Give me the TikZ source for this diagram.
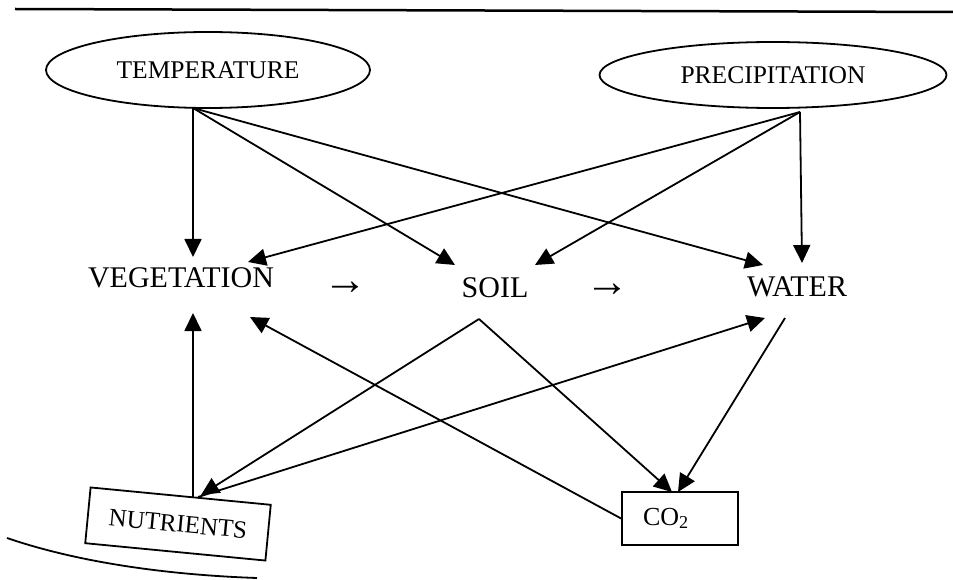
\documentclass[tikz,border=0pt]{standalone}
\usepackage{fontspec}
\setmainfont{Liberation Serif}
\usepackage{tikz}
\usetikzlibrary{arrows.meta}
\usetikzlibrary{shapes.geometric}
\usetikzlibrary{positioning}

\begin{document}
\begin{tikzpicture}[x=1pt,y=-1pt,
		oval/.style={draw,ellipse,line width=1.8pt,inner sep=0pt,font=\fontsize{25.5}{30}\selectfont},
		pool/.style={draw,rectangle,line width=1.8pt,inner sep=0pt,font=\fontsize{25}{30}\selectfont},
		word/.style={inner sep=0pt,font=\fontsize{30}{36}\selectfont},
		flow/.style={inner sep=0pt,font=\fontsize{44}{48}\selectfont},
		link/.style={line width=1.8pt,-{Triangle[length=18pt,width=17pt]}}]
		\useasboundingbox (0,0) rectangle (953,580);
		% page edges
		\draw[line width=2.5pt] (15,9) -- (953,12);
		\draw[line width=1.8pt] (7,538) .. controls (80,563) and (170,575) .. (257,578);
		% drivers
		\node[oval,minimum width=324pt,minimum height=76pt] (temp) at (208,70) {TEMPERATURE};
		\node[oval,minimum width=347pt,minimum height=66pt] (prec) at (773,75) {PRECIPITATION};
		% middle row
		\node[word] (veg) at (181,278) {VEGETATION};
		\node[flow] (arrA) at (345,288) {→};
		\node[word] (soil) at (495,287.5) {SOIL};
		\node[flow] (arrB) at (607,290) {→};
		\node[word] (water) at (797,287) {WATER};
		% pools
		\node[pool,rotate=-5.5,minimum width=181pt,minimum height=56pt] (nutr) at (178,524) {NUTRIENTS};
		\node[pool,minimum width=116pt,minimum height=53pt,text width=74pt,inner xsep=21pt,align=left,
			font=\fontsize{26}{30}\selectfont] (co) at (680,518.5) {CO\textsubscript{2}};
		% ports
		\coordinate (tempout) at (193,108);
		\coordinate (precout) at (800,112);
		\coordinate (vegT) at (193,257);
		\coordinate (vegP) at (248,262);
		\coordinate (vegN) at (193,313);
		\coordinate (vegC) at (250,317);
		\coordinate (soilT) at (455,265);
		\coordinate (soilP) at (535,265);
		\coordinate (soilout) at (479,319);
		\coordinate (waterT) at (763,265);
		\coordinate (waterP) at (802,263);
		\coordinate (waterN) at (765,318);
		\coordinate (waterout) at (785,318);
		\coordinate (nutrS) at (201,495);
		\coordinate (nutrV) at (193,498);
		\coordinate (nutrW) at (198,497);
		\coordinate (coS) at (672,492);
		\coordinate (coW) at (678,492);
		% climate links
		\draw[link] (tempout) -- (vegT);
		\draw[link] (tempout) -- (soilT);
		\draw[link] (tempout) -- (waterT);
		\draw[link] (precout) -- (vegP);
		\draw[link] (precout) -- (soilP);
		\draw[link] (precout) -- (waterP);
		% pool links
		\draw[link] (nutrV) -- (vegN);
		\draw[link] (soilout) -- (nutrS);
		\draw[link] (nutrW) -- (waterN);
		\draw[link] (soilout) -- (coS);
		\draw[link] (waterout) -- (coW);
		\draw[link] (co.west) -- (vegC);
	\end{tikzpicture}
\end{document}
